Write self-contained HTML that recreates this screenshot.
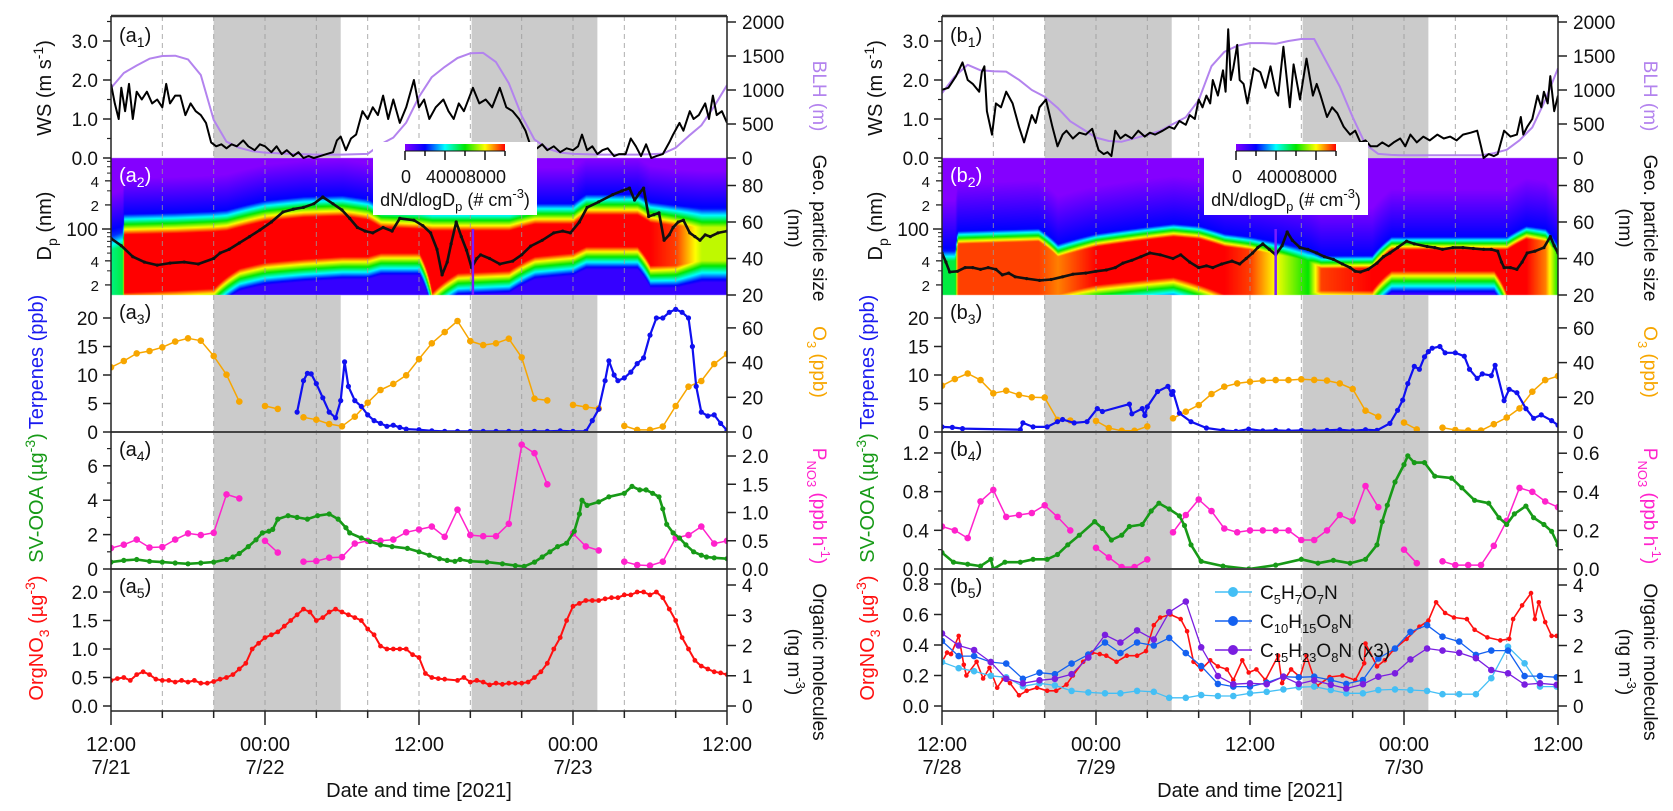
<!DOCTYPE html>
<html><head><meta charset="utf-8">
<style>
html,body{margin:0;padding:0;background:#fff;width:1673px;height:811px;overflow:hidden}
#wrap{position:relative;width:1673px;height:811px}
canvas,svg{position:absolute;left:0;top:0}
text{font-family:"Liberation Sans",Arial,sans-serif}
</style></head>
<body>
<div id="wrap">
<canvas id="heat" width="1673" height="811"></canvas>
<svg id="fig" width="1673" height="811" xmlns="http://www.w3.org/2000/svg"></svg>
</div>
<script>
// ===== DATA (hours since 12:00 of first day) =====
const nightL = [8, 17.9];
const nightL2 = [28.1, 37.9];
const hourly = [0,1,2,3,4,5,6,7,8,9,10,11,12,13,14,15,16,17,18,19,20,21,22,23,24,25,26,27,28,29,30,31,32,33,34,35,36,37,38,39,40,41,42,43,44,45,46,47,48];

// --- left (a) ---
const wsL_t = [0,0.3,0.6,0.8,1.1,1.4,1.7,2,2.4,2.8,3.2,3.6,4,4.3,4.6,5,5.4,5.8,6.2,6.6,7,7.4,7.8,8.2,8.6,9,9.4,9.8,10.3,10.7,11.2,11.6,12,12.5,12.9,13.3,13.7,14.2,14.6,15,15.4,15.8,16.3,16.8,17.3,17.6,17.9,18.3,18.7,19.1,19.6,20,20.4,20.8,21.2,21.6,22,22.5,23,23.6,24,24.4,24.8,25.3,25.9,26.3,26.7,27.1,27.5,28.2,28.7,29.2,29.7,30.3,30.8,31.3,31.8,32.3,32.7,33.2,33.6,34,34.5,35,35.5,36,36.4,36.7,37.1,37.5,37.9,38.3,38.7,39.2,39.6,40.1,40.5,40.9,41.3,41.7,42.1,42.5,43,43.5,43.8,44.3,44.6,45.1,45.4,45.8,46.3,46.6,46.9,47.2,47.6,48];
const wsL_v = [1.9,1.4,1.0,1.8,1.2,1.9,1.0,1.7,1.5,1.7,1.4,1.5,1.3,1.9,1.4,1.6,1.6,1.1,1.4,1.2,1.1,0.9,0.4,0.3,0.35,0.25,0.35,0.3,0.45,0.3,0.2,0.35,0.3,0.15,0.3,0.1,0.2,0.05,0.15,0.0,0.05,0.0,0.05,0.1,0.15,0.45,0.55,0.2,0.5,0.6,1.2,1.0,1.3,1.1,1.6,1.0,1.5,0.9,1.3,2.0,1.3,1.5,1.0,1.3,1.5,1.2,1.0,1.4,1.2,1.8,1.4,1.5,1.3,1.8,1.3,1.2,1.0,0.7,0.3,0.25,0.35,0.2,0.3,0.15,0.25,0.2,0.3,0.6,0.2,0.3,0.1,0.2,0.25,0.05,0.1,0.1,0.5,0.3,0.05,0.35,0.0,0.05,0.1,0.4,0.6,0.9,0.7,1.2,1.0,1.1,1.4,1.0,1.6,1.1,1.2,0.9];
const blhL = [1030,1250,1360,1460,1500,1505,1450,1220,560,240,150,100,80,70,60,55,50,50,50,55,60,200,300,520,900,1190,1340,1470,1540,1545,1410,1100,620,270,140,80,60,55,50,50,50,50,55,65,150,320,480,760,1070];
const geoL_t = [0,0.8,1.7,2.6,3.6,4.6,5.7,6.8,8,8.5,9.2,10,10.8,11.6,12.5,13.4,14.2,15,15.8,16.5,17.3,18,18.6,19.2,19.8,20.4,21.2,21.9,22.5,23.6,24.3,24.9,25.4,25.8,26.2,26.5,26.9,27.3,27.7,28.1,28.5,28.8,29.5,30.3,31.3,32,32.7,33.6,34.5,35.2,35.8,36.5,37.1,38,39.1,39.8,40.4,40.8,41.2,41.5,41.9,42.3,42.7,43.1,43.5,43.8,44.2,44.6,45.1,45.5,45.9,46.3,46.7,47.3,48];
const geoL_v = [51,47,41,38,36.4,37.5,38,37,40,43,45,48.5,52,55.6,60,65.5,67,68,70,73.7,70,66.6,62,57,55,54,57,55,62,61,58,54,45,31,38,48,60,52,44.6,35,40,42,40,37,38.6,42,46.8,50,54,55,54,60,68,71,75,77,78.6,72,76,78.6,63,64,65,50,53,57,60,61,54,52,50,53,52,54,55];
const heatL_t = [0,0.9,1.0,5,8,9,10,12,15,18,20,21,24,25,27,31,33,36,37,41,42,44,46,48];
const heatL_low = [15,15,16,17,18,25,32,38,42,45,45,50,50,16,28,30,45,50,60,60,35,35,40,40];
const heatL_high = [55,60,85,88,92,95,105,125,140,145,130,105,100,95,95,95,115,115,150,150,120,110,105,105];
const heatL_peak = [0.5,0.55,1,1,1,1,1,1,1,1,1,1,1,1,1,1,1,1,1,1,1,0.95,0.75,0.75];
const terpL_t = [14.5,15,15.3,15.6,16,16.5,17,17.5,17.9,18.2,18.5,19,19.5,20,20.5,21,21.5,22,22.5,23,24,25,26,27,28,29,30,31,32,33,34,35,36,37,37.5,38,38.5,38.8,39.2,39.5,40,40.5,41,41.5,42,42.5,43,43.5,44,44.5,45,45.3,45.6,46,46.5,47,47.5,48];
const terpL_v = [3.5,9,10.3,10.2,8.5,6,3.5,2.5,5.5,12.3,8,5.5,4.5,3,2,1.5,1,1.2,0.8,0.5,0.4,0.2,0.1,0.1,0.1,0.1,0.1,0.1,0.1,0.1,0.1,0.2,0.1,0.1,2,4,9,12.5,10,9,9.5,10.5,12,13,17,20,20,21,21.5,21,20,15,8,3.5,2.8,3,1.5,0.3];
const o3L = [37.3,40.9,45.3,46.7,48.8,52.1,54,52.6,43.8,33,17.5,null,15,13.3,null,8.5,7.1,4.6,3.3,8.8,16.9,24.2,27.7,32.7,42.1,51.1,57.6,64,52.4,50.1,51.1,53.8,43,19.2,18.2,null,15.6,14.4,13.5,null,3.5,1.2,1.2,3.1,15,26.1,29.4,39.2,45];
const oooaL_t = [0,1,2,3,4,5,6,7,8,9,9.5,10,10.7,11.3,11.8,12.3,12.6,13,13.8,14.5,15.3,16.1,17,17.7,18.3,18.6,19.5,20.2,21,21.9,23.1,24,24.8,25.6,26.2,26.8,27.2,28,29.3,30.5,31.5,32.2,33,33.6,34.2,34.8,35.5,36.1,36.5,36.7,37.1,38,38.8,40,40.6,41.2,41.7,42.2,42.7,43,43.3,43.8,44.3,44.8,45.4,46,46.4,47,48];
const oooaL_v = [0.4,0.5,0.55,0.45,0.4,0.35,0.3,0.35,0.4,0.55,0.7,0.9,1.3,1.7,2.1,2.2,2.3,2.9,3.1,3.0,2.9,3.1,3.2,2.9,2.4,2.1,1.8,1.6,1.4,1.3,1.2,1.0,0.8,0.6,0.5,0.45,0.55,0.45,0.4,0.3,0.2,0.15,0.4,0.7,1.0,1.3,1.5,2.2,3.2,4.0,3.7,3.9,4.2,4.4,4.8,4.6,4.6,4.4,4.2,3.5,2.6,2.1,1.8,1.4,1.0,0.8,0.7,0.65,0.6];
const pnoL = [0.37,0.43,0.52,0.38,0.39,0.52,0.63,0.6,0.64,1.32,1.25,null,0.5,0.29,null,0.13,0.14,0.2,0.21,0.45,0.5,0.5,0.52,0.65,0.7,0.75,0.57,1.05,0.6,0.58,0.58,0.8,2.2,2.05,1.5,null,0.63,0.4,0.33,null,0.13,0.07,0.06,0.13,0.55,0.6,0.75,0.45,0.5];
const orgL_t = [0,0.5,1,1.5,2,2.5,3,3.5,4,4.5,5,5.5,6,6.5,7,7.5,8,8.5,9,9.5,10,10.5,11,11.5,12,12.5,13,13.5,14,14.5,15,15.5,16,16.5,17,17.5,18,18.5,19,19.5,20,20.5,21,21.5,22,22.5,23,23.5,24,24.5,25,25.5,26,27,27.5,28,28.5,29,29.5,30,30.5,31,31.5,32,32.5,33,33.5,34,34.5,35,35.5,36,36.5,37,37.5,38,38.5,39,39.5,40,40.5,41,41.5,42,42.5,43,43.5,44,44.5,45,45.5,46,46.5,47,47.5,48];
const orgL_v = [0.45,0.48,0.5,0.45,0.55,0.6,0.55,0.47,0.45,0.45,0.42,0.45,0.42,0.45,0.4,0.4,0.43,0.47,0.5,0.55,0.65,0.75,1.0,1.1,1.2,1.25,1.3,1.4,1.5,1.6,1.7,1.65,1.5,1.55,1.65,1.7,1.65,1.6,1.55,1.5,1.35,1.25,1.05,1.0,1.0,1.0,1.0,0.9,0.85,0.57,0.5,0.48,0.47,0.45,0.5,0.42,0.45,0.42,0.37,0.4,0.38,0.4,0.4,0.4,0.42,0.5,0.6,0.75,1.0,1.2,1.5,1.75,1.8,1.85,1.85,1.85,1.88,1.9,1.9,1.95,1.95,2.0,2.0,1.95,2.0,1.9,1.7,1.5,1.2,1.0,0.8,0.7,0.65,0.6,0.58,0.55];

// --- right (b) ---
const wsR_t = [0,0.5,1.1,1.6,2,2.4,2.9,3.1,3.3,3.5,3.9,4.2,4.6,5,5.5,6,6.4,7,7.3,7.6,8.1,8.6,9,9.4,9.7,10.2,10.7,11.2,11.7,12.2,12.6,12.9,13.2,13.5,13.9,14.3,14.8,15.3,15.8,16.2,16.6,17.2,17.7,18.1,18.5,19,19.3,19.7,20,20.3,20.6,20.9,21.1,21.5,21.9,22.1,22.3,22.5,22.7,23,23.2,23.5,23.8,24.3,24.8,25.2,25.6,26,26.2,26.6,27.1,27.4,27.9,28.4,28.9,29.2,29.5,30,30.4,30.8,31.3,31.8,32.2,32.6,33,33.4,33.9,34.3,34.8,35.2,35.7,36.1,36.5,37,37.5,38,38.6,39.1,39.6,40.1,40.6,41.2,41.7,42,42.2,42.6,43,43.3,43.8,44.3,44.8,45.1,45.3,45.6,46,46.4,46.7,46.9,47.2,47.4,47.7,48];
const wsR_v = [1.75,1.8,2.1,2.45,2.0,1.9,1.7,2.2,2.35,1.2,0.6,1.4,1.3,1.7,1.4,0.8,0.4,1.1,0.9,1.3,1.5,0.8,0.3,0.6,0.7,0.5,0.65,0.6,0.75,0.2,0.1,0.15,0.05,0.7,0.5,0.6,0.5,0.7,0.55,0.65,0.6,0.7,0.8,0.75,0.95,0.85,1.1,1.0,1.5,1.3,1.6,1.4,2.0,1.6,2.25,1.7,3.3,2.0,2.3,2.9,2.0,1.9,1.4,2.3,2.2,1.8,2.35,1.7,1.6,2.85,1.3,2.4,1.5,2.55,1.6,1.9,1.6,1.05,1.3,1.15,0.8,0.6,0.7,0.4,0.45,0.3,0.3,0.4,0.3,0.4,0.5,0.3,0.6,0.4,0.55,0.45,0.6,0.5,0.55,0.45,0.6,0.65,0.7,0.3,0.0,0.1,0.05,0.1,0.7,0.55,0.6,1.05,0.6,0.8,1.0,1.6,1.3,1.7,1.4,2.1,1.2,1.6];
const blhR = [955,1200,1370,1290,1275,1270,1150,1000,900,740,540,420,300,250,240,290,340,400,500,600,850,1350,1560,1650,1690,1690,1680,1720,1750,1750,1400,1050,600,200,60,45,40,40,40,40,40,40,40,70,120,260,450,850,1320];
const geoR_t = [0,0.3,0.6,1.2,1.8,2.4,3,3.6,4.2,4.7,5.2,5.7,6.6,7.6,8.5,9.4,10.2,11.2,12,12.8,13.5,14.1,14.8,15.5,16.2,17,18,18.6,19.3,20,20.6,21.1,21.8,22.6,23.2,23.7,24.2,24.6,25,25.5,26,26.5,26.9,27.3,27.9,28.5,29.2,29.8,30.5,31.2,31.8,32.2,32.6,33.2,33.9,34.4,34.9,35.5,36.2,36.8,37.8,38.4,39,39.8,40.6,41.4,42.2,42.8,43.3,43.6,43.8,44.3,44.8,45.2,45.6,46.2,46.9,47.4,47.7,48];
const geoR_v = [43,38,32.6,33,35,35,34,35,34,31,32,30,29,28,28.5,30,31.4,32,33,33.7,35,37.5,39,41,43,42,40,42,38,35,36,35,37,38.6,37,40,43,46,48,45,42,47,54.5,50,46,45,43,41,39.5,37,35,33,32.6,34,37.5,41,43,46,49.5,48,46.6,46,45,46,46,45.5,45,45,44,38,35,35,34,38,43,44,46,52,47,43];
const heatR_t = [0,1,1.2,7.5,9,12,18,20,22,24,28.5,29.5,33.5,35,43,44,45.5,47,48];
const heatR_low = [15,15,15,15,15,20,25,20,15,15,15,17,17,30,30,15,15,15,15];
const heatR_high = [40,40,65,70,45,60,80,75,60,55,40,32,32,55,55,55,75,70,45];
const heatR_peak = [0.55,0.55,0.95,0.95,0.9,1,1,1,1,0.95,0.6,0.95,1,1,1,1,1,0.9,0.6];
const terpR_t = [0,0.8,1.6,6.1,6.3,7.1,8.2,9,9.4,10.3,11.3,12.1,12.5,14.6,14.8,15.6,15.8,16,16.8,17.6,17.9,18,18.5,19.4,20.6,21.9,22.9,23.9,25,26,27,28,29,30,31,32,33,33.9,34.9,35.5,35.9,36.3,36.8,37.2,37.6,37.9,38.2,38.8,39.2,40,40.7,41.1,41.7,42.1,42.8,43.1,43.8,44.2,44.8,45.5,46.1,46.7,47.5,48];
const terpR_v = [0.9,0.8,0.6,0.4,1.6,0.9,0.9,1.8,2.2,1.6,1.8,4.1,3.6,4.9,3.2,4.1,2.9,4.4,7.1,8,6.6,7.1,3.3,1.8,0.7,0.3,0.1,0.5,0.2,0.3,0.2,0.3,0.2,0.3,0.4,0.2,0.4,0.3,1.5,3.8,5.6,8.5,11.5,11,13.2,14.1,14.7,15,13.9,13.9,13.3,11,9.4,10.2,9.9,11.7,5.5,7.5,6.9,4.1,2.4,3,2,1.2];
const o3R = [26.7,30.5,33.7,29.9,22.3,23.8,21.4,20,19.8,7,6.6, null, 6.4,2.3,0.7,0.7,3.2, null, 7.9,11.7,15.5,21.9,26.1,28, 29,29.6,29.9,29.9,30.4,30,29.6,28,24.8, 12.3,8.8,null,5.4,1.5,null,2.5,1.2,0.8,0.8,4.5,8.3,13.6,23.2,29.9,32.2];
const oooaR_t = [0,0.9,2,3,3.8,4,4.9,6.1,7.1,8.2,9,9.8,10.7,11.9,12.5,13.2,14,14.6,15.6,16.3,16.9,17.7,18.5,18.9,19.4,20.2,21.9,23.9,26,28,29.3,30.5,31.8,33,33.9,34.3,34.7,35.3,36,36.3,36.8,37.6,38.4,39.7,40.5,41.5,42.6,43.4,44,44.6,45.5,46.1,46.9,47.5,48];
const oooaR_v = [0.17,0.07,0.05,0.03,0.1,0.0,0.07,0.07,0.1,0.1,0.15,0.25,0.35,0.49,0.42,0.3,0.35,0.44,0.46,0.6,0.68,0.62,0.55,0.45,0.25,0.08,0.03,0.0,0.04,0.1,0.06,0.09,0.06,0.1,0.25,0.49,0.66,0.9,1.08,1.17,1.1,1.1,0.96,0.94,0.84,0.71,0.68,0.53,0.46,0.57,0.65,0.53,0.46,0.39,0.25];
const pnoR = [0.22,0.2,0.16,0.35,0.41,0.27,0.28,0.29,0.33,0.27,0.2, null, 0.11,0.06,0.01,0.01,0.05, null, 0.19,0.28,0.36,0.3,0.21,0.19,0.2,0.2,0.2,0.2,0.15,0.15,0.2,0.28,0.25,0.43,0.32, null, 0.1,0.03, null, 0.04,0.02,0.02,0.02,0.12,0.25,0.42,0.4,0.35,0.32];
const orgR_t = [0,0.4,0.7,1.3,1.7,1.9,2.7,3.2,3.7,4.3,4.8,5.3,6,6.6,7.4,8.2,8.9,9.7,10.2,11,11.7,12.3,12.8,13.6,14.4,15.2,15.9,16.5,17,17.8,18.6,19.1,19.6,20.2,20.9,21.5,22.2,22.7,23.4,23.9,24.5,25.2,26.2,26.5,27.2,27.9,28.4,29.2,30.2,31.2,32.2,32.9,33,33.9,34.5,35.2,36.2,37.2,37.9,38.5,39.2,39.9,40.9,41.5,42.5,43.5,44.2,44.5,45.2,45.9,46.2,46.5,47,47.5,47.9];
const orgR_v = [0.29,0.35,0.34,0.46,0.27,0.2,0.29,0.18,0.25,0.12,0.18,0.15,0.07,0.1,0.12,0.1,0.1,0.14,0.2,0.29,0.35,0.34,0.33,0.29,0.33,0.33,0.36,0.53,0.58,0.6,0.57,0.49,0.29,0.24,0.3,0.26,0.24,0.17,0.3,0.22,0.24,0.17,0.33,0.15,0.24,0.19,0.33,0.13,0.19,0.2,0.17,0.28,0.41,0.26,0.3,0.37,0.44,0.52,0.56,0.68,0.61,0.58,0.57,0.5,0.45,0.43,0.44,0.57,0.66,0.74,0.57,0.68,0.55,0.46,0.46];
const molT = [0,1.3,2.5,3.8,5,6.3,7.6,8.8,10.1,11.4,12.7,13.9,15.2,16.5,17.7,19,20.2,21.5,22.7,24,25.3,26.6,27.8,29,30.3,31.5,32.8,34,35.3,36.5,37.8,39,40.3,41.6,42.8,44.1,45.4,46.6,47.9];
const c5 = [1.45,1.25,1.15,1.0,0.95,0.65,0.75,0.68,0.5,0.45,0.42,0.42,0.5,0.47,0.27,0.27,0.36,0.33,0.33,0.42,0.47,0.55,0.62,0.64,0.53,0.42,0.42,0.53,0.55,0.53,0.5,0.39,0.39,0.39,0.92,1.96,1.41,0.64,0.64];
const c10 = [2.15,1.65,1.65,1.45,1.4,0.9,1.1,1.05,1.4,1.7,2.1,1.75,2.1,2.0,2.25,1.75,1.32,0.73,0.64,0.64,0.77,0.97,0.95,0.97,0.86,0.73,0.86,1.57,1.9,2.45,2.67,2.29,2.13,1.69,1.83,1.83,0.99,0.99,0.95];
const c15 = [2.4,2.0,1.85,1.45,0.9,0.75,0.85,0.9,1.05,1.6,2.35,2.1,2.5,2.2,3.1,3.45,1.94,0.99,0.72,0.75,0.72,0.97,0.73,0.85,0.7,0.58,0.72,0.97,1.08,1.54,1.9,1.83,1.76,1.58,1.19,1.08,0.71,0.75,0.7];

const xTickHours = [0,4,8,12,16,20,24,28,32,36,40,44,48];
const xLabelsL = [['12:00','7/21'],['00:00','7/22'],['12:00',''],['00:00','7/23'],['12:00','']];
const xLabelsR = [['12:00','7/28'],['00:00','7/29'],['12:00',''],['00:00','7/30'],['12:00','']];

// ===== DRAWING =====
const NS = 'http://www.w3.org/2000/svg';
const svg = document.getElementById('fig');
function mk(tag, attrs, name, parent) {
  const el = document.createElementNS(NS, tag);
  for (const k in attrs) el.setAttribute(k, attrs[k]);
  
  
  (parent || svg).appendChild(el);
  return el;
}
const PL = {x0:111, x1:727, id:'a'};
const PR = {x0:942, x1:1558, id:'b'};
function X(p, h) { return p.x0 + h * (p.x1 - p.x0) / 48; }
const ROWS = [[16,158],[158,295],[295,432],[432,569],[569,706]];

const yWS = v => 158 - v * 39;
const yBLH = v => 158 - v * 0.068;
const yDp = d => 229 - 80 * Math.log10(d / 100);
const yGeo = v => 295 - (v - 20) * 1.825;
const yTerp = v => 432 - v * 5.7;
const yO3 = v => 432 - v * 1.735;
const yOOA_L = v => 569 - v * 17.2;
const yPNO_L = v => 569 - v * 56.5;
const yOOA_R = v => 569 - v * 96.7;
const yPNO_R = v => 569 - v * 193;
const yOrg_L = v => 706 - v * 57;
const yOrg_R = v => 706 - v * 152.5;
const yMol = v => 706 - v * 30.25;

const defs = mk('defs', {}, 'definitions');
function clipFor(p, r) {
  const id = 'clip-' + p.id + r;
  const cp = mk('clipPath', {id: id}, 'clip-' + p.id + r, defs);
  mk('rect', {x: p.x0, y: ROWS[r][0] - 1, width: p.x1 - p.x0, height: ROWS[r][1] - ROWS[r][0] + 2}, 'clip-rect', cp);
  return 'url(#' + id + ')';
}

// heatmap (canvas)
const ctx = document.getElementById('heat').getContext('2d');
const cmapStops = [[0,[132,0,255]],[0.2,[0,0,255]],[0.4,[0,255,255]],[0.6,[0,230,0]],[0.8,[255,255,0]],[1,[255,0,0]]];
function cmap(l) {
  l = Math.max(0, Math.min(1, l));
  for (let i = 1; i < cmapStops.length; i++) {
    if (l <= cmapStops[i][0]) {
      const a = cmapStops[i-1], b = cmapStops[i];
      const f = (l - a[0]) / (b[0] - a[0]);
      return [0,1,2].map(k => Math.round(a[1][k] + f * (b[1][k] - a[1][k])));
    }
  }
  return [255,0,0];
}
function interp(ts, vs, t) {
  if (t <= ts[0]) return vs[0];
  for (let i = 1; i < ts.length; i++) if (t <= ts[i]) { const f = (t - ts[i-1]) / (ts[i] - ts[i-1]); return vs[i-1] + f * (vs[i] - vs[i-1]); }
  return vs[vs.length - 1];
}
function drawHeat(p, T, LO, HI, PK, w1, w2) {
  const W = p.x1 - p.x0, H = 137;
  const img = ctx.createImageData(W, H);
  for (let i = 0; i < W; i++) {
    const t = i / W * 48;
    const lo = interp(T, LO, t), hi = interp(T, HI, t), pk = interp(T, PK, t);
    for (let j = 0; j < H; j++) {
      const y = 158 + j + 0.5;
      const D = 100 * Math.pow(10, (229 - y) / 80);
      let l;
      if (D >= lo && D <= hi) l = pk;
      else if (D > hi) { const d = Math.log10(D / hi); l = Math.max(pk * (1 - d / w1), 0.2 * (1 - (d - w1 * 0.8) / w2)); }
      else { const d = Math.log10(lo / D); l = Math.max(pk * (1 - d / 0.32), 0.12); }
      const c = cmap(l);
      const k = (j * W + i) * 4;
      img.data[k] = c[0]; img.data[k+1] = c[1]; img.data[k+2] = c[2]; img.data[k+3] = 255;
    }
  }
  ctx.putImageData(img, p.x0, 158);
}
drawHeat(PL, heatL_t, heatL_low, heatL_high, heatL_peak, 0.32, 0.45);
drawHeat(PR, heatR_t, heatR_low, heatR_high, heatR_peak, 0.2, 0.6);

function pathFrom(p, ts, vs, yf) {
  let d = '', pen = false;
  for (let i = 0; i < ts.length; i++) {
    if (vs[i] === null) { pen = false; continue; }
    d += (pen ? 'L' : 'M') + X(p, ts[i]).toFixed(1) + ',' + yf(vs[i]).toFixed(1);
    pen = true;
  }
  return d;
}
function series(p, ts, vs, yf, color, w, r, name, clip) {
  const g = mk('g', {'clip-path': clip}, name);
  mk('path', {d: pathFrom(p, ts, vs, yf), fill: 'none', stroke: color, 'stroke-width': w, 'stroke-linejoin': 'round'}, name + '-line', g);
  if (r > 0) for (let i = 0; i < ts.length; i++) {
    if (vs[i] === null) continue;
    mk('circle', {cx: X(p, ts[i]).toFixed(1), cy: yf(vs[i]).toFixed(1), r: r, fill: color}, name + '-point', g);
  }
}
function text(x, y, str, opts, name, parent) {
  const t = mk('text', Object.assign({x: x, y: y, 'font-size': 19, fill: '#111'}, opts || {}), name, parent);
  t.innerHTML = str;
  return t;
}

function panel(p, isL) {
  const pid = p.id;
  const nights = [nightL, nightL2];
  nights.forEach((n, k) => {
    mk('rect', {x: X(p, n[0]), y: 16, width: X(p, n[1]) - X(p, n[0]), height: 142, fill: '#cbcbcb'}, 'night-shade-top', svg);
    mk('rect', {x: X(p, n[0]), y: 295, width: X(p, n[1]) - X(p, n[0]), height: 416, fill: '#cbcbcb'}, 'night-shade', svg);
  });
  xTickHours.forEach(h => {
    if (h === 0 || h === 48) return;
    mk('line', {x1: X(p,h), x2: X(p,h), y1: 16, y2: 711, stroke: '#9a9a9a', 'stroke-width': 1, 'stroke-dasharray': '5,4', opacity: 0.8}, 'vertical-gridline', svg);
  });

  const c = [0,1,2,3,4].map(r => clipFor(p, r));
  series(p, hourly, isL ? blhL : blhR, yBLH, '#b383ee', 2, 0, 'blh-series', c[0]);
  series(p, isL ? wsL_t : wsR_t, isL ? wsL_v : wsR_v, yWS, '#000', 2, 0, 'wind-speed-series', c[0]);
  series(p, isL ? geoL_t : geoR_t, isL ? geoL_v : geoR_v, yGeo, '#111', 2.6, 1.6, 'geo-mean-size-series', c[1]);
  const gapH = isL ? 28.2 : 26;
  mk('line', {x1: X(p,gapH), x2: X(p,gapH), y1: 229, y2: 295, stroke: '#7a1cff', 'stroke-width': 2.5}, 'data-gap-marker', svg);
  const bx = p.x0 + 262;
  mk('rect', {x: bx, y: 142, width: 164, height: 73, fill: '#fff'}, 'colorbar-box', svg);
  const gid = 'cbg' + pid;
  const lg = mk('linearGradient', {id: gid, x1: 0, x2: 1, y1: 0, y2: 0}, 'colorbar-gradient', defs);
  cmapStops.forEach(s => mk('stop', {offset: s[0], 'stop-color': 'rgb(' + s[1].join(',') + ')'}, 'gradient-stop', lg));
  mk('rect', {x: bx + 32, y: 144, width: 100, height: 7, fill: 'url(#' + gid + ')'}, 'colorbar', svg);
  mk('line', {x1: bx+32, x2: bx+132, y1: 151, y2: 151, stroke: '#111', 'stroke-width': 1}, 'colorbar-axis', svg);
  [0,1,2,3,4,5].forEach(k => mk('line', {x1: bx+32+k*20, x2: bx+32+k*20, y1: 151, y2: k%2===0?160:156, stroke: '#111', 'stroke-width': 1.5}, 'colorbar-tick', svg));
  text(bx+33, 183, '0', {'text-anchor':'middle', 'font-size': 18}, 'colorbar-label-0', svg);
  text(bx+73, 183, '4000', {'text-anchor':'middle', 'font-size': 18}, 'colorbar-label-4000', svg);
  text(bx+113, 183, '8000', {'text-anchor':'middle', 'font-size': 18}, 'colorbar-label-8000', svg);
  text(bx+82, 206, 'dN/dlogD<tspan font-size="13" dy="5">p</tspan><tspan dy="-5"> (# cm</tspan><tspan font-size="13" dy="-8">-3</tspan><tspan dy="8">)</tspan>', {'text-anchor':'middle', 'font-size': 18}, 'colorbar-title', svg);

  series(p, hourly, isL ? o3L : o3R, yO3, '#f7a600', 1.5, 3.3, 'ozone-series', c[2]);
  series(p, isL ? terpL_t : terpR_t, isL ? terpL_v : terpR_v, yTerp, '#1010f0', 2.2, 2.6, 'terpenes-series', c[2]);
  series(p, hourly, isL ? pnoL : pnoR, isL ? yPNO_L : yPNO_R, '#ff22cc', 1.5, 3.3, 'pno3-series', c[3]);
  series(p, isL ? oooaL_t : oooaR_t, isL ? oooaL_v : oooaR_v, isL ? yOOA_L : yOOA_R, '#179a17', 2.6, 2.6, 'sv-ooa-series', c[3]);
  if (isL) {
    series(p, orgL_t, orgL_v, yOrg_L, '#ff1010', 2, 2.4, 'orgno3-series', c[4]);
  } else {
    series(p, orgR_t, orgR_v, yOrg_R, '#ff1010', 1.6, 2.3, 'orgno3-series', c[4]);
    series(p, molT, c5, yMol, '#44bff5', 1.3, 3.3, 'c5h7o7n-series', c[4]);
    series(p, molT, c10, yMol, '#1461f0', 1.3, 3.3, 'c10h15o8n-series', c[4]);
    series(p, molT, c15, yMol, '#7a1ee0', 1.3, 3.3, 'c15h23o8n-series', c[4]);
  }

  mk('line', {x1: p.x0, x2: p.x1, y1: 16, y2: 16, stroke: '#333', 'stroke-width': 2.5}, 'top-border', svg);
  mk('line', {x1: p.x0, x2: p.x1, y1: 432, y2: 432, stroke: '#444', 'stroke-width': 2}, 'panel-separator', svg);
  mk('line', {x1: p.x0, x2: p.x1, y1: 569, y2: 569, stroke: '#444', 'stroke-width': 2}, 'panel-separator', svg);
  mk('line', {x1: p.x0, x2: p.x0, y1: 16, y2: 711, stroke: '#222', 'stroke-width': 1.5}, 'left-axis-line', svg);
  mk('line', {x1: p.x1, x2: p.x1, y1: 16, y2: 711, stroke: '#222', 'stroke-width': 1.5}, 'right-axis-line', svg);
  mk('line', {x1: p.x0, x2: p.x1, y1: 711, y2: 711, stroke: '#222', 'stroke-width': 1.5}, 'x-axis-line', svg);
  xTickHours.forEach((h, k) => {
    const major = h % 12 === 0;
    mk('line', {x1: X(p,h), x2: X(p,h), y1: 711, y2: major ? 725 : 718, stroke: '#222', 'stroke-width': 1.5}, 'x-tick', svg);
  });
  const labs = isL ? xLabelsL : xLabelsR;
  labs.forEach((l, k) => {
    text(X(p, k*12), 751, l[0], {'text-anchor':'middle', 'font-size': 20}, 'x-tick-label', svg);
    if (l[1]) text(X(p, k*12), 774, l[1], {'text-anchor':'middle', 'font-size': 20}, 'x-date-label', svg);
  });
  text((p.x0 + p.x1) / 2, 797, 'Date and time [2021]', {'text-anchor':'middle', 'font-size': 20}, 'x-axis-title', svg);

  function lt(vals, yf, fmt, minors, lab) {
    vals.forEach(v => {
      const y = yf(v);
      mk('line', {x1: p.x0 - 8, x2: p.x0, y1: y, y2: y, stroke: '#222', 'stroke-width': 1.5}, 'left-tick', svg);
      if (lab !== false) text(p.x0 - 13, y + 7, fmt(v), {'text-anchor':'end'}, 'left-tick-label', svg);
    });
    (minors || []).forEach(v => { const y = yf(v); mk('line', {x1: p.x0 - 4, x2: p.x0, y1: y, y2: y, stroke: '#222', 'stroke-width': 1.2}, 'left-minor-tick', svg); });
  }
  function rt(vals, yf, fmt, minors) {
    vals.forEach(v => {
      const y = yf(v);
      mk('line', {x1: p.x1, x2: p.x1 + 9, y1: y, y2: y, stroke: '#222', 'stroke-width': 1.5}, 'right-tick', svg);
      text(p.x1 + 15, y + 7, fmt(v), {'text-anchor':'start'}, 'right-tick-label', svg);
    });
    (minors || []).forEach(v => { const y = yf(v); mk('line', {x1: p.x1, x2: p.x1 + 5, y1: y, y2: y, stroke: '#222', 'stroke-width': 1.2}, 'right-minor-tick', svg); });
  }
  const f1 = v => v.toFixed(1), f0 = v => String(v);
  lt([0,1,2,3], yWS, f1, [0.5,1.5,2.5,3.5]);
  rt([0,500,1000,1500,2000], yBLH, f0);
  [100].forEach(v => { mk('line', {x1: p.x0-9, x2: p.x0, y1: yDp(v), y2: yDp(v), stroke:'#222','stroke-width':1.5}, 'dp-major-tick', svg); text(p.x0-13, yDp(v)+7, '100', {'text-anchor':'end'}, 'dp-tick-label', svg); });
  [[20,'2'],[40,'4'],[200,'2'],[400,'4']].forEach(a => { mk('line', {x1: p.x0-6, x2: p.x0, y1: yDp(a[0]), y2: yDp(a[0]), stroke:'#222','stroke-width':1.3}, 'dp-tick', svg); text(p.x0-12, yDp(a[0])+6, a[1], {'text-anchor':'end','font-size':15}, 'dp-tick-label', svg); });
  [30,50,60,70,80,90,300,500,600,700].forEach(v => mk('line', {x1: p.x0-4, x2: p.x0, y1: yDp(v), y2: yDp(v), stroke:'#222','stroke-width':1}, 'dp-minor-tick', svg));
  rt([20,40,60,80], yGeo, f0);
  lt([0,5,10,15,20], yTerp, f0);
  rt([0,20,40,60], yO3, f0);
  if (isL) {
    lt([0,2,4,6], yOOA_L, f0, [1,3,5,7]);
    rt([0,0.5,1,1.5,2], yPNO_L, f1);
    lt([0,0.5,1,1.5,2], yOrg_L, f1);
  } else {
    lt([0,0.4,0.8,1.2], yOOA_R, f1, [0.2,0.6,1.0]);
    rt([0,0.2,0.4,0.6], yPNO_R, f1, [0.1,0.3,0.5]);
    lt([0,0.2,0.4,0.6,0.8], yOrg_R, f1);
  }
  rt([0,1,2,3,4], yMol, f0);

  const sfx = ['1','2','3','4','5'];
  [42,182,319,456,593].forEach((y, k) => {
    text(p.x0 + 8, y, '(' + pid + '<tspan font-size="14" dy="5">' + sfx[k] + '</tspan><tspan dy="-5">)</tspan>', {'font-size': 20, fill: k === 1 ? '#fff' : '#111'}, 'panel-label-' + pid + sfx[k], svg);
  });

  const lx = p.x0 - 66;
  function rotL(x, y, html, color, name) { text(0, 0, html, {'text-anchor':'middle', 'font-size': 20, fill: color, transform: 'translate(' + x + ',' + y + ') rotate(-90)'}, name, svg); }
  function rotR(x, y, html, color, name) { text(0, 0, html, {'text-anchor':'middle', 'font-size': 19, fill: color, transform: 'translate(' + x + ',' + y + ') rotate(90)'}, name, svg); }
  rotL(lx + 6, 88, 'WS (m s<tspan font-size="14" dy="-8">-1</tspan><tspan dy="8">)</tspan>', '#111', 'ws-axis-title');
  rotL(lx + 6, 226, 'D<tspan font-size="14" dy="6">p</tspan><tspan dy="-6"> (nm)</tspan>', '#111', 'dp-axis-title');
  rotL(lx - 2, 362, 'Terpenes (ppb)', '#1a1af0', 'terpenes-axis-title');
  rotL(lx - 2, 498, 'SV-OOA (µg<tspan font-size="14" dy="-8">-3</tspan><tspan dy="8">)</tspan>', '#179a17', 'sv-ooa-axis-title');
  rotL(lx - 2, 638, 'OrgNO<tspan font-size="14" dy="6">3</tspan><tspan dy="-6"> (µg</tspan><tspan font-size="14" dy="-8">-3</tspan><tspan dy="8">)</tspan>', '#ff1010', 'orgno3-axis-title');
  const rx = p.x1 + 86;
  rotR(rx, 96, 'BLH (m)', '#b383ee', 'blh-axis-title');
  rotR(rx, 228, 'Geo. particle size', '#111', 'geo-size-axis-title');
  rotR(rx - 25, 228, '(nm)', '#111', 'geo-size-axis-unit');
  rotR(rx, 362, 'O<tspan font-size="13" dy="6">3</tspan><tspan dy="-6"> (ppb)</tspan>', '#f7a600', 'ozone-axis-title');
  rotR(rx, 506, 'P<tspan font-size="13" dy="6">NO3</tspan><tspan dy="-6"> (ppb h</tspan><tspan font-size="13" dy="-8">-1</tspan><tspan dy="8">)</tspan>', '#ff22cc', 'pno3-axis-title');
  rotR(rx, 662, 'Organic molecules', '#111', 'organic-molecules-axis-title');
  rotR(rx - 25, 662, '(ng m<tspan font-size="13" dy="-8">-3</tspan><tspan dy="8">)</tspan>', '#111', 'organic-molecules-axis-unit');
}
panel(PL, true);
panel(PR, false);

const legItems = [['C<tspan font-size="13" dy="5">5</tspan><tspan dy="-5">H</tspan><tspan font-size="13" dy="5">7</tspan><tspan dy="-5">O</tspan><tspan font-size="13" dy="5">7</tspan><tspan dy="-5">N</tspan>', '#44bff5', 'legend-c5h7o7n'],
  ['C<tspan font-size="13" dy="5">10</tspan><tspan dy="-5">H</tspan><tspan font-size="13" dy="5">15</tspan><tspan dy="-5">O</tspan><tspan font-size="13" dy="5">8</tspan><tspan dy="-5">N</tspan>', '#1461f0', 'legend-c10h15o8n'],
  ['C<tspan font-size="13" dy="5">15</tspan><tspan dy="-5">H</tspan><tspan font-size="13" dy="5">23</tspan><tspan dy="-5">O</tspan><tspan font-size="13" dy="5">8</tspan><tspan dy="-5">N (x3)</tspan>', '#7a1ee0', 'legend-c15h23o8n']];
const legG = mk('g', {}, 'legend');
legItems.forEach((it, k) => {
  const y = 592 + k * 29;
  mk('line', {x1: 1215, x2: 1252, y1: y, y2: y, stroke: it[1], 'stroke-width': 1.5}, it[2] + '-line', legG);
  mk('circle', {cx: 1233, cy: y, r: 5, fill: it[1]}, it[2] + '-marker', legG);
  text(1260, y + 7, it[0], {'font-size': 19}, it[2] + '-label', legG);
});
</script>
</body></html>
